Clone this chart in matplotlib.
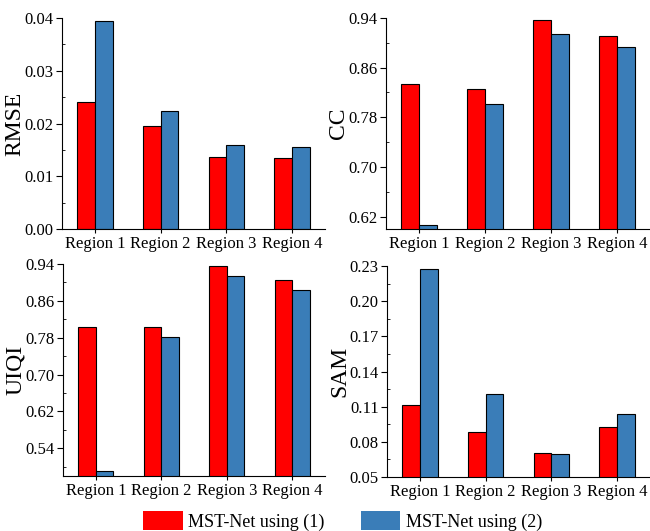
import matplotlib
matplotlib.use("Agg")
import matplotlib.pyplot as plt
import numpy as np
from matplotlib.patches import Patch
from matplotlib.ticker import FixedLocator

plt.rcParams['font.family'] = ['Liberation Serif', 'DejaVu Serif']

regions = ["Region 1", "Region 2", "Region 3", "Region 4"]
series_names = ["MST-Net using (1)", "MST-Net using (2)"]

rmse_1 = [0.0241, 0.0195, 0.0136, 0.0134]
rmse_2 = [0.0394, 0.0224, 0.0159, 0.01555]
cc_1 = [0.833, 0.8255, 0.937, 0.911]
cc_2 = [0.607, 0.801, 0.9146, 0.8935]
uiqi_1 = [0.803, 0.8036, 0.9356, 0.906]
uiqi_2 = [0.491, 0.781, 0.913, 0.8845]
sam_1 = [0.111, 0.088, 0.0705, 0.0926]
sam_2 = [0.2275, 0.1207, 0.0696, 0.1037]

red = "#FF0000"
blue = "#3A7DB8"

fig = plt.figure(figsize=(6.5, 5.31), dpi=100)
W, H = 650, 531

def axes_px(left, right, top, bottom):
    return fig.add_axes([left / W, 1 - bottom / H, (right - left) / W, (bottom - top) / H])

panels = [
    (axes_px(62, 325, 18, 229), rmse_1, rmse_2, "RMSE", (0.0, 0.04), 0.01),
    (axes_px(386, 650, 18, 229), cc_1, cc_2, "CC", (0.60, 0.94), 0.08),
    (axes_px(63, 325, 264, 476), uiqi_1, uiqi_2, "UIQI", (0.48, 0.94), 0.08),
    (axes_px(387, 650, 266, 477), sam_1, sam_2, "SAM", (0.05, 0.23), 0.03),
]

x = np.arange(1, len(regions) + 1)
w = 0.27
for ax, s1, s2, label, ylim, step in panels:
    ax.bar(x - w / 2, s1, width=w, color=red, edgecolor="black", linewidth=0.8)
    ax.bar(x + w / 2, s2, width=w, color=blue, edgecolor="black", linewidth=0.8)
    ax.set_xlim(0.5, 4.5)
    ax.set_ylim(*ylim)
    ax.set_xticks(x)
    ax.set_xticklabels(regions, fontsize=12)
    top = ylim[1]
    if label == "RMSE":
        majors = np.arange(0.0, 0.0401, 0.01)
    else:
        majors = np.arange(top, ylim[0] - 1e-9, -step)[::-1]
    ax.set_yticks(majors)
    ax.set_yticklabels([f"{v:.2f}" for v in majors], fontsize=12)
    minors = np.concatenate([majors - step / 2, [majors[-1] + step / 2]])
    minors = minors[(minors > ylim[0]) & (minors < ylim[1])]
    ax.yaxis.set_minor_locator(FixedLocator(minors))
    ax.tick_params(axis='y', which='major', direction='out', length=4, width=0.8, pad=2)
    ax.tick_params(axis='y', which='minor', direction='in', length=2, width=0.6)
    ax.tick_params(axis='x', which='major', direction='out', length=3, width=0.8, pad=2)
    ax.spines['top'].set_visible(False)
    ax.spines['right'].set_visible(False)
    ax.set_ylabel(label, fontsize=17, labelpad=-0.5)

handles = [Patch(facecolor=red, edgecolor="none"), Patch(facecolor=blue, edgecolor="none")]
fig.legend(handles, series_names, loc="upper center", bbox_to_anchor=(0.527, 1 - 504 / H),
           ncol=2, frameon=False, fontsize=13, handlelength=2.2, handleheight=1.25,
           handletextpad=0.3, columnspacing=2.0, borderaxespad=0)

fig.savefig("out.png", dpi=100)
